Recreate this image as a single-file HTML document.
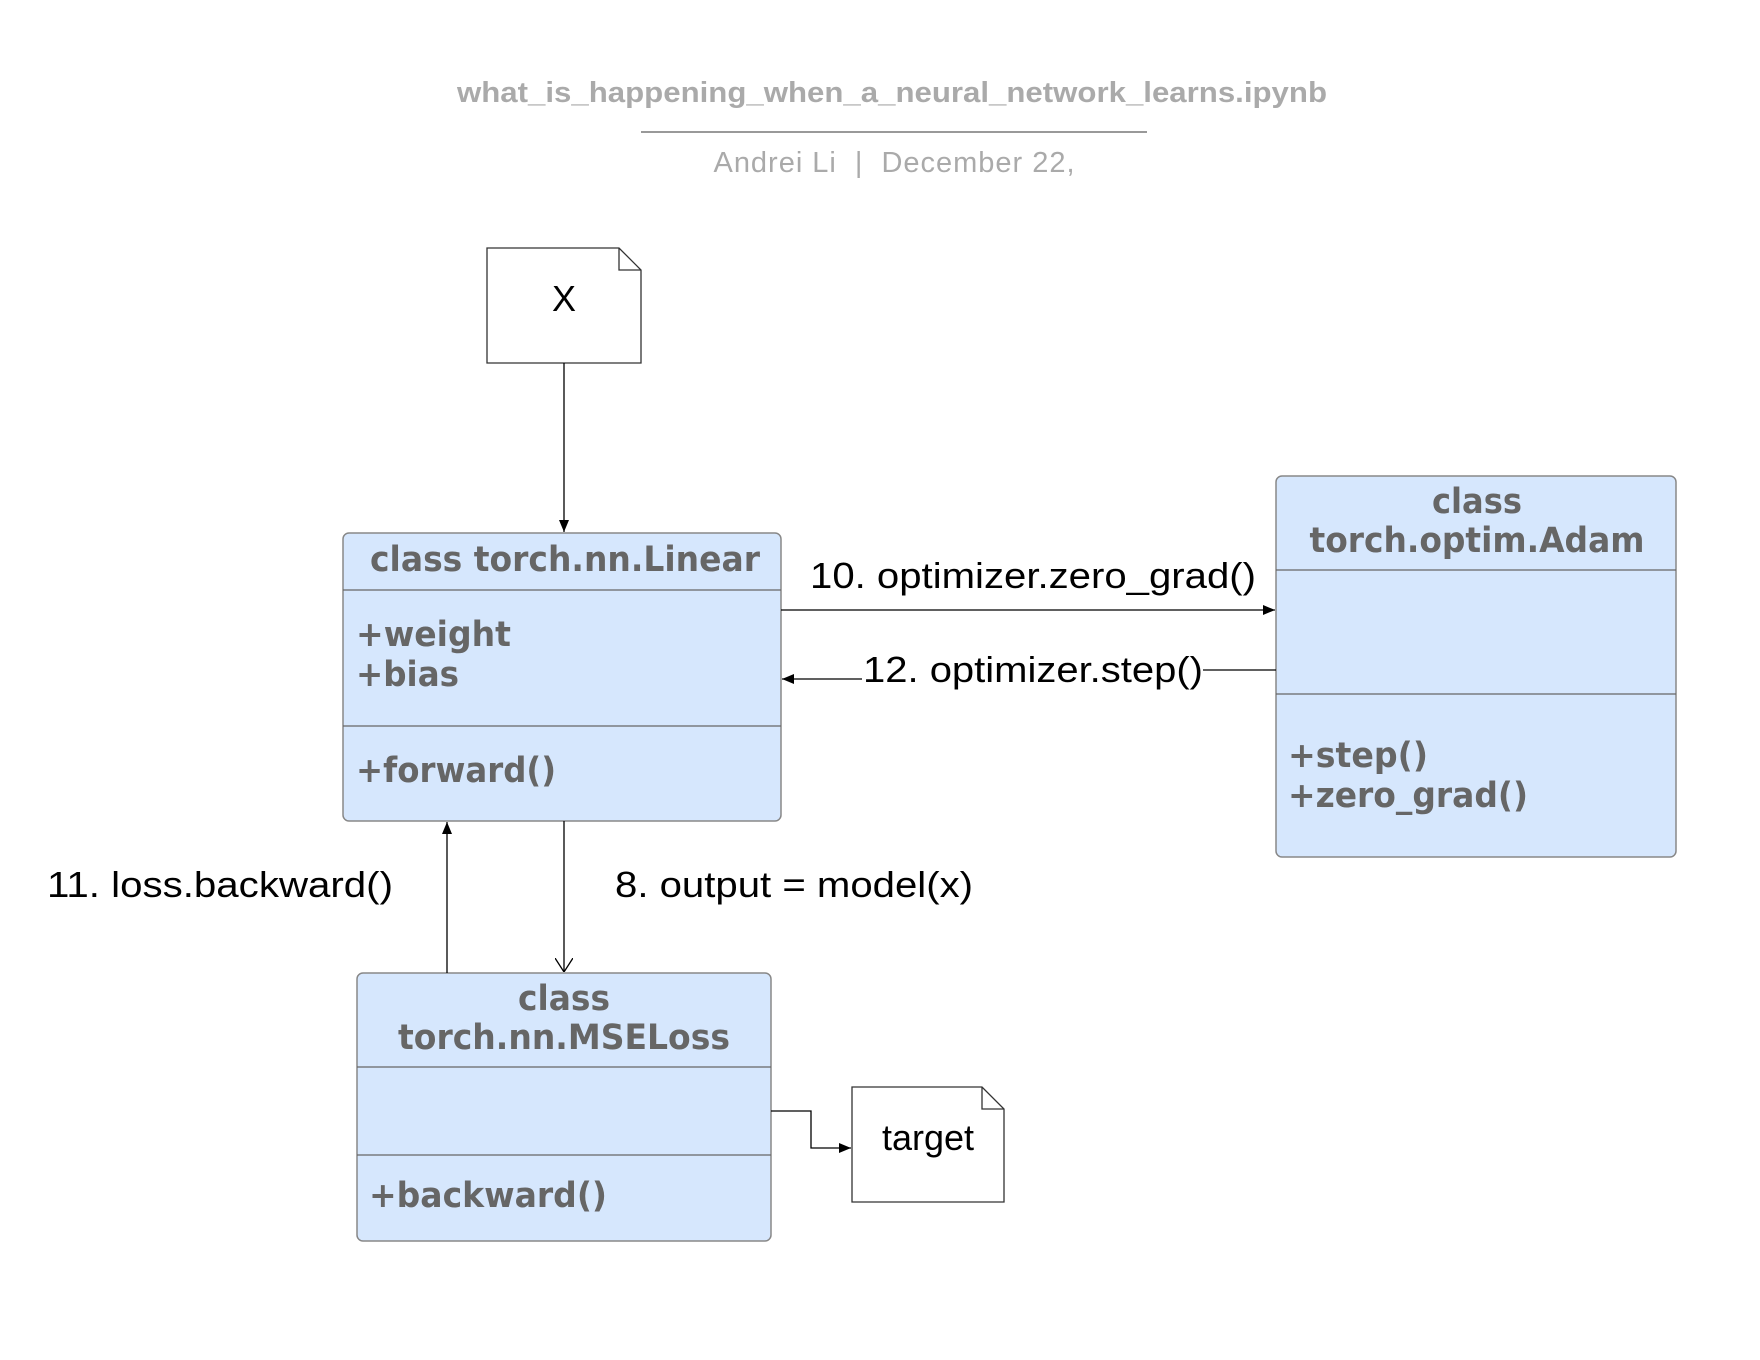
<!DOCTYPE html>
<html><head><meta charset="utf-8"><style>
html,body{margin:0;padding:0;background:#fff;}
svg{display:block;}
.h{font-family:"DejaVu Sans","Liberation Sans",sans-serif;font-weight:bold;font-size:35px;fill:#666;}
.l{font-family:"Liberation Sans",sans-serif;font-size:36px;fill:#000;}
</style></head><body>
<svg width="1760" height="1360" viewBox="0 0 1760 1360" xmlns="http://www.w3.org/2000/svg">
<defs>
<marker id="a" markerWidth="12" markerHeight="10" refX="12" refY="5" orient="auto" markerUnits="userSpaceOnUse"><path d="M0,0 L12,5 L0,10 z" fill="#000"/></marker>
<marker id="o" markerWidth="14" markerHeight="18" refX="14" refY="9" orient="auto" markerUnits="userSpaceOnUse"><path d="M0,0 L14,9 L0,18" fill="none" stroke="#000" stroke-width="1.3"/></marker>
</defs>
<text x="892" y="102" text-anchor="middle" font-family="Liberation Sans,sans-serif" font-weight="bold" font-size="29" fill="#aaa" textLength="870" lengthAdjust="spacingAndGlyphs">what_is_happening_when_a_neural_network_learns.ipynb</text>
<line x1="641" y1="132" x2="1147" y2="132" stroke="#999" stroke-width="2"/>
<text x="894" y="172" text-anchor="middle" font-family="Liberation Sans,sans-serif" font-size="29" fill="#aaa" textLength="361" xml:space="preserve">Andrei Li  |  December 22,</text>

<path d="M487,248 H619 L641,270 V363 H487 Z" fill="#fff" stroke="#333" stroke-width="1.3"/>
<path d="M619,248 V270 H641" fill="none" stroke="#333" stroke-width="1.3"/>
<text x="564" y="311" text-anchor="middle" class="l">X</text>

<path d="M852,1091 H982 L1004,1113 V1206 H852 Z" transform="translate(0,-4)" fill="#fff" stroke="#333" stroke-width="1.3"/>
<path d="M982,1087 V1109 H1004" fill="none" stroke="#333" stroke-width="1.3"/>
<text x="928" y="1150" text-anchor="middle" class="l">target</text>

<!-- Linear -->
<rect x="343" y="533" width="438" height="288" rx="6" fill="#d6e7fd" stroke="#888" stroke-width="1.5"/>
<line x1="343" y1="590" x2="781" y2="590" stroke="#666" stroke-width="1.3"/>
<line x1="343" y1="726" x2="781" y2="726" stroke="#666" stroke-width="1.3"/>
<text x="565" y="571" text-anchor="middle" class="h" textLength="390" lengthAdjust="spacingAndGlyphs">class torch.nn.Linear</text>
<text x="356" y="646" class="h" textLength="155" lengthAdjust="spacingAndGlyphs">+weight</text>
<text x="356" y="686" class="h" textLength="103" lengthAdjust="spacingAndGlyphs">+bias</text>
<text x="356" y="782" class="h" textLength="200" lengthAdjust="spacingAndGlyphs">+forward()</text>

<!-- Adam -->
<rect x="1276" y="476" width="400" height="381" rx="6" fill="#d6e7fd" stroke="#888" stroke-width="1.5"/>
<line x1="1276" y1="570" x2="1676" y2="570" stroke="#666" stroke-width="1.3"/>
<line x1="1276" y1="694" x2="1676" y2="694" stroke="#666" stroke-width="1.3"/>
<text x="1477" y="513" text-anchor="middle" class="h" textLength="90" lengthAdjust="spacingAndGlyphs">class</text>
<text x="1477" y="552" text-anchor="middle" class="h" textLength="335" lengthAdjust="spacingAndGlyphs">torch.optim.Adam</text>
<text x="1288" y="767" class="h" textLength="140" lengthAdjust="spacingAndGlyphs">+step()</text>
<text x="1288" y="807" class="h" textLength="240" lengthAdjust="spacingAndGlyphs">+zero_grad()</text>

<!-- MSELoss -->
<rect x="357" y="973" width="414" height="268" rx="6" fill="#d6e7fd" stroke="#888" stroke-width="1.5"/>
<line x1="357" y1="1067" x2="771" y2="1067" stroke="#666" stroke-width="1.3"/>
<line x1="357" y1="1155" x2="771" y2="1155" stroke="#666" stroke-width="1.3"/>
<text x="564" y="1010" text-anchor="middle" class="h" textLength="92" lengthAdjust="spacingAndGlyphs">class</text>
<text x="564" y="1049" text-anchor="middle" class="h" textLength="332" lengthAdjust="spacingAndGlyphs">torch.nn.MSELoss</text>
<text x="369" y="1207" class="h" textLength="238" lengthAdjust="spacingAndGlyphs">+backward()</text>

<!-- connectors -->
<line x1="564" y1="363" x2="564" y2="532" stroke="#000" stroke-width="1.3" marker-end="url(#a)"/>
<line x1="781" y1="610" x2="1275" y2="610" stroke="#000" stroke-width="1.3" marker-end="url(#a)"/>
<text x="810" y="588" class="l" textLength="446" lengthAdjust="spacingAndGlyphs">10. optimizer.zero_grad()</text>
<line x1="1276" y1="670" x2="1203" y2="670" stroke="#000" stroke-width="1.3"/>
<line x1="862" y1="679" x2="782" y2="679" stroke="#000" stroke-width="1.3" marker-end="url(#a)"/>
<text x="863" y="682" class="l" textLength="340" lengthAdjust="spacingAndGlyphs">12. optimizer.step()</text>
<line x1="447" y1="973" x2="447" y2="822" stroke="#000" stroke-width="1.3" marker-end="url(#a)"/>
<text x="47" y="897" class="l" textLength="346" lengthAdjust="spacingAndGlyphs">11. loss.backward()</text>
<line x1="564" y1="821" x2="564" y2="972" stroke="#000" stroke-width="1.3" marker-end="url(#o)"/>
<text x="615" y="897" class="l" textLength="358" lengthAdjust="spacingAndGlyphs">8. output = model(x)</text>
<path d="M771,1111 H811 V1148 H851" fill="none" stroke="#000" stroke-width="1.3" marker-end="url(#a)"/>
</svg>
</body></html>
